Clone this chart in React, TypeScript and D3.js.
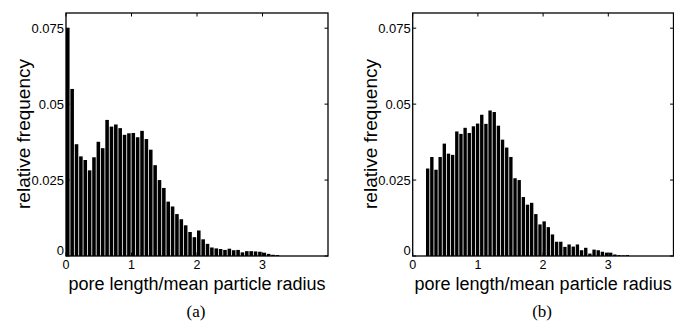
import React from 'react';
import * as d3 from 'd3';

// relative frequency per bin
const freqA = [
  0.0750, 0.0550, 0.0368, 0.0328, 0.0316, 0.0282, 0.0325, 0.0376, 0.0355, 0.0448,
  0.0426, 0.0433, 0.0421, 0.0399, 0.0404, 0.0405, 0.0391, 0.0412, 0.0385, 0.0350,
  0.0299, 0.0250, 0.0224, 0.0179, 0.0163, 0.0138, 0.0121, 0.0101, 0.0079, 0.0062,
  0.0084, 0.0055, 0.0040, 0.0028, 0.0025, 0.0023, 0.0020, 0.0024, 0.0019, 0.0020,
  0.0012, 0.0016, 0.0016, 0.0015, 0.0014, 0.0011, 0.0007, 0.0004, 0.0003
];
const startA = 0;
const binA = 1 / 15;

const freqB = [
  0.0288, 0.0326, 0.0284, 0.0326, 0.0370, 0.0337, 0.0333, 0.0410, 0.0402, 0.0422,
  0.0405, 0.0427, 0.0436, 0.0465, 0.0435, 0.0479, 0.0474, 0.0429, 0.0383, 0.0357,
  0.0326, 0.0256, 0.0250, 0.0194, 0.0169, 0.0175, 0.0138, 0.0104, 0.0114, 0.0095,
  0.0071, 0.0047, 0.0047, 0.0030, 0.0038, 0.0031, 0.0038, 0.0019, 0.0027, 0.0008,
  0.0021, 0.0019, 0.0014, 0.0011, 0.0011, 0.0005, 0.0003, 0.0002, 0.0003
];
const startB = 0.204;
const binB = 0.0638;

const xTicks = [0, 1, 2, 3];
const yTicks = [0, 0.025, 0.05, 0.075];
const yTickLabels = ['0', '0.025', '0.05', '0.075'];

const W = 674;
const H = 324;
const SANS = '"Liberation Sans", Arial, Helvetica, sans-serif';
const SERIF = '"Liberation Serif", "Times New Roman", serif';

type PanelProps = {
  data: number[];
  start: number;
  bin: number;
  x0: number;
  x1: number;
  letter: string;
};

function Panel({ data, start, bin, x0, x1, letter }: PanelProps) {
  const top = 13;
  const bottom = 256;
  const x = d3.scaleLinear().domain([0, 4]).range([x0, x1]);
  const y = d3.scaleLinear().domain([0, 0.08]).range([bottom, top]);
  const bw = x(bin) - x(0);
  const tick = 3.5;

  return (
    <g>
      {/* bars */}
      {data.map((v, i) => (
        <rect
          key={i}
          x={x(start + i * bin)}
          y={y(v)}
          width={Math.max(0, bw - 0.8)}
          height={bottom - y(v)}
          fill="#000"
        />
      ))}

      {/* box */}
      <rect x={x0} y={top} width={x1 - x0} height={bottom - top}
        fill="none" stroke="#000" strokeWidth={1.3} />

      {/* x ticks */}
      {xTicks.map(t => (
        <g key={'x' + t}>
          <line x1={x(t)} x2={x(t)} y1={bottom} y2={bottom - tick} stroke="#000" strokeWidth={1} />
          <line x1={x(t)} x2={x(t)} y1={top} y2={top + tick} stroke="#000" strokeWidth={1} />
          <text x={x(t)} y={bottom + 12.5} textAnchor="middle"
            fontFamily={SANS} fontSize={12.5} fill="#000">{t}</text>
        </g>
      ))}

      {/* y ticks */}
      {yTicks.map((t, i) => (
        <g key={'y' + t}>
          <line x1={x0} x2={x0 + tick} y1={y(t)} y2={y(t)} stroke="#000" strokeWidth={1} />
          <line x1={x1} x2={x1 - tick} y1={y(t)} y2={y(t)} stroke="#000" strokeWidth={1} />
          <text x={x0 - 2} y={t === 0 ? y(t) - 1 : y(t) + 4.5} textAnchor="end"
            fontFamily={SANS} fontSize={13} fill="#000">{yTickLabels[i]}</text>
        </g>
      ))}

      {/* axis titles */}
      <text x={(x0 + x1) / 2} y={290} textAnchor="middle"
        fontFamily={SANS} fontSize={18} fill="#000">pore length/mean particle radius</text>
      <text transform={`translate(${x0 - 36},${134}) rotate(-90)`} textAnchor="middle"
        fontFamily={SANS} fontSize={19} fill="#000">relative frequency</text>

      <text x={(x0 + x1) / 2 - 1} y={317} textAnchor="middle"
        fontFamily={SERIF} fontSize={17} fill="#000">{letter}</text>
    </g>
  );
}

export default function App() {
  return (
    <svg width={W} height={H} style={{ position: 'absolute', left: 0, top: 0, background: '#fff' }}>
      <rect width={W} height={H} fill="#fff" />
      <Panel data={freqA} start={startA} bin={binA} x0={66} x1={328} letter="(a)" />
      <Panel data={freqB} start={startB} bin={binB} x0={412.7} x1={673.5} letter="(b)" />
    </svg>
  );
}
